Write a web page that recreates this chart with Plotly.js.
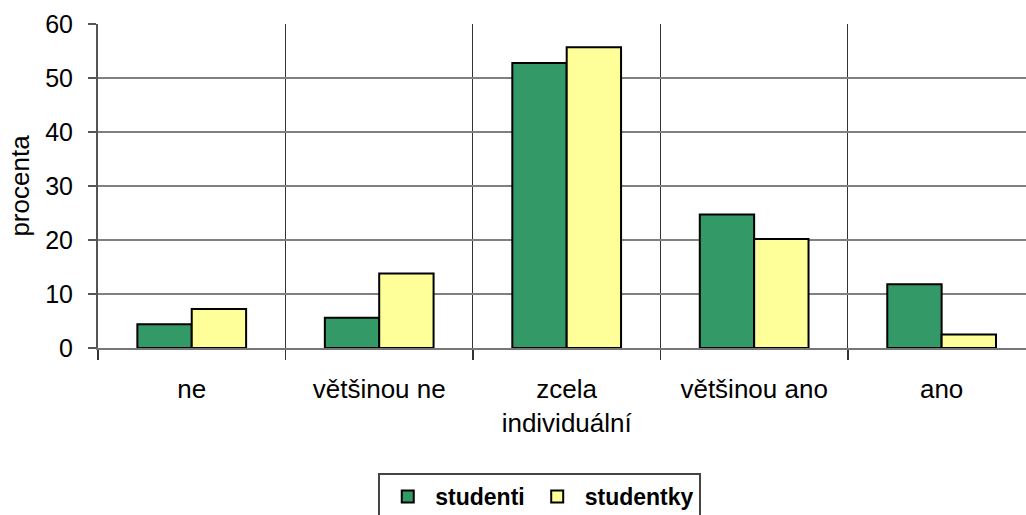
<!DOCTYPE html>
<html>
<head>
<meta charset="utf-8">
<script src="https://cdn.plot.ly/plotly-3.0.1.min.js"></script>
<style>
  html, body { margin: 0; padding: 0; background: #fff; overflow: hidden; }
  #chart { width: 1026px; height: 515px; }
</style>
</head>
<body>
<div id="chart"></div>
<script>
// Answer categories and shares (%) for male and female students
const categories = ['ne', 'většinou ne', 'zcela<br>individuální', 'většinou ano', 'ano'];
const studenti = [4.4, 5.6, 52.8, 24.7, 11.8];
const studentky = [7.2, 13.8, 55.7, 20.2, 2.5];
const yTicks = [0, 10, 20, 30, 40, 50, 60];

const font = 'Liberation Sans, Arial, sans-serif';

const traces = [
  {
    type: 'bar', name: 'studenti', x: categories, y: studenti,
    marker: { color: '#339966', line: { color: '#000', width: 2 } }
  },
  {
    type: 'bar', name: 'studentky', x: categories, y: studentky,
    marker: { color: '#FFFF99', line: { color: '#000', width: 2 } }
  }
];

const layout = {
  width: 1026, height: 515,
  margin: { l: 98, r: 0, t: 24, b: 167, autoexpand: false },
  paper_bgcolor: '#fff', plot_bgcolor: '#fff',
  barmode: 'group', bargap: 0.42, bargroupgap: 0,
  font: { family: font, color: '#000' },
  showlegend: true,
  legend: {
    orientation: 'h', x: 0.302, xanchor: 'left', y: -0.386, yanchor: 'top',
    bordercolor: '#444', borderwidth: 2, bgcolor: '#fff',
    font: { family: font, size: 23, weight: 'bold', color: '#000' },
    itemwidth: 45, tracegroupgap: 0
  },
  xaxis: {
    type: 'category', range: [-0.5, 4.45],
    tickson: 'boundaries', ticks: 'outside', ticklen: 10, tickcolor: '#333', tickwidth: 1.5,
    showgrid: true, gridcolor: '#333', gridwidth: 1,
    showline: true, linecolor: '#777', linewidth: 2,
    tickfont: { family: font, size: 26, color: '#000' },
    ticklabelstandoff: 17,
    fixedrange: true
  },
  yaxis: {
    range: [0, 60], tickvals: yTicks, ticktext: yTicks.map(String),
    ticks: 'outside', ticklen: 8, tickcolor: '#555', tickwidth: 2,
    showgrid: true, gridcolor: '#808080', gridwidth: 2,
    zeroline: false,
    showline: true, linecolor: '#555', linewidth: 2,
    tickfont: { family: font, size: 25, color: '#000' },
    ticklabelstandoff: 10,
    title: { text: 'procenta', font: { family: font, size: 26, color: '#000' }, standoff: 8 },
    fixedrange: true
  }
};

Plotly.newPlot('chart', traces, layout, { displayModeBar: false, staticPlot: true });
</script>
</body>
</html>
